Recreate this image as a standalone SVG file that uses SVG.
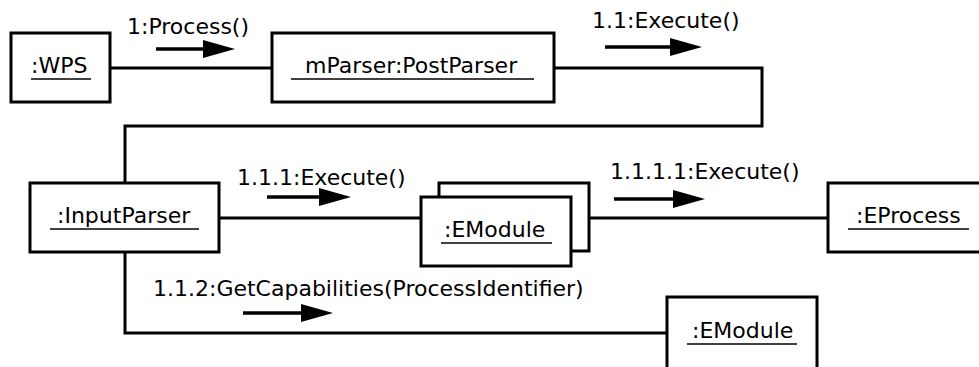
<svg xmlns="http://www.w3.org/2000/svg" width="979" height="367" viewBox="0 0 979 367">
<style>
.box{fill:#fff;stroke:#000;stroke-width:3}
.con{fill:none;stroke:#000;stroke-width:3}
.msg{stroke:#000;stroke-width:3.5;marker-end:url(#ah)}
.ul{stroke:#000;stroke-width:1.6}
text{font-family:"DejaVu Sans",sans-serif;font-size:22px;fill:#000}
</style>
<defs>
<marker id="ah" markerUnits="userSpaceOnUse" markerWidth="32" markerHeight="20" refX="1" refY="9" orient="auto" overflow="visible">
<path d="M0,0 L32,9 L0,18 z" fill="#000"/>
</marker>
</defs>
<rect width="979" height="367" fill="#fff"/>
<g id="connectors">
<line class="con" x1="111" y1="68" x2="272" y2="68"/>
<polyline class="con" points="555,68 762,68 762,126 125,126 125,183"/>
<line class="con" x1="220" y1="218" x2="421" y2="218"/>
<line class="con" x1="590" y1="218" x2="828" y2="218"/>
<polyline class="con" points="125,253 125,333 667,333"/>
<line class="msg" x1="156" y1="49" x2="204" y2="49"/>
<text x="127" y="34">1:Process()</text>
<line class="msg" x1="605" y1="47" x2="671" y2="47"/>
<text x="592" y="28">1.1:Execute()</text>
<line class="msg" x1="267" y1="197" x2="320" y2="197"/>
<text x="237" y="185">1.1.1:Execute()</text>
<line class="msg" x1="614" y1="199" x2="674" y2="199"/>
<text x="610" y="179">1.1.1.1:Execute()</text>
<line class="msg" x1="243" y1="313" x2="302" y2="313"/>
<text x="153" y="296">1.1.2:GetCapabilities(ProcessIdentifier)</text>
</g>
<g id="wps">
<rect class="box" x="11" y="33" width="99" height="69"/>
<text x="31" y="73">:WPS</text>
<line class="ul" x1="31" y1="79" x2="91" y2="79"/>
</g>
<g id="postparser">
<rect class="box" x="272" y="33" width="282" height="69"/>
<text x="305" y="73">mParser:PostParser</text>
<line class="ul" x1="291" y1="79" x2="534" y2="79"/>
</g>
<g id="inputparser">
<rect class="box" x="30" y="183" width="189" height="69"/>
<text x="57" y="223">:InputParser</text>
<line class="ul" x1="50" y1="229" x2="199" y2="229"/>
</g>
<g id="emodule1">
<rect class="box" x="439" y="183" width="150" height="68"/>
<rect class="box" x="421" y="197" width="150" height="69"/>
<text x="444" y="237">:EModule</text>
<line class="ul" x1="441" y1="243" x2="552" y2="243"/>
</g>
<g id="eprocess">
<rect class="box" x="828" y="183" width="170" height="69"/>
<text x="856" y="223">:EProcess</text>
<line class="ul" x1="848" y1="229" x2="969" y2="229"/>
</g>
<g id="emodule2">
<rect class="box" x="667" y="297" width="150" height="80"/>
<text x="692" y="338">:EModule</text>
<line class="ul" x1="687" y1="344" x2="797" y2="344"/>
</g>
</svg>
